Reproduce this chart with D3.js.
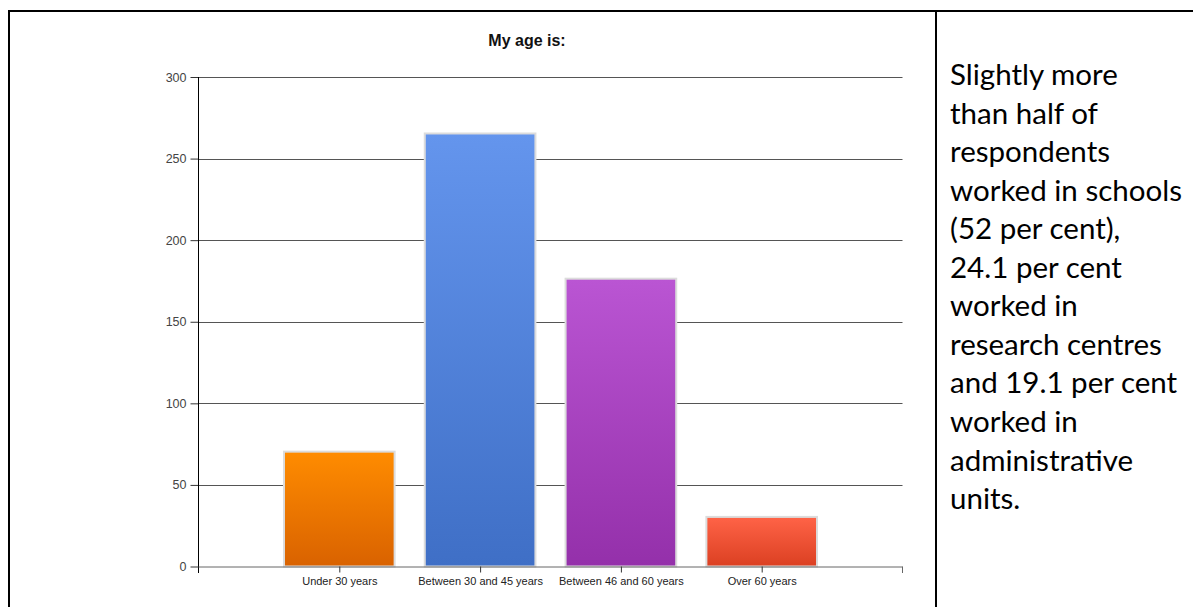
<!DOCTYPE html>
<html><head><meta charset="utf-8">
<script src="https://cdn.jsdelivr.net/npm/d3@7"></script>
<style>body{margin:0;background:#fff;}svg{display:block;}</style>
</head><body>
<svg id="c" width="1193" height="607"></svg>
<script>
const categories = ["Under 30 years","Between 30 and 45 years","Between 46 and 60 years","Over 60 years"];
const values = [71, 266, 177, 31];
const colorsTop = ["#FF8C00","#6495ED","#BA55D3","#FF6347"];
const colorsBottom = ["#D96200","#3F6FC6","#9430AA","#DB4022"];
const yTicks = [0,50,100,150,200,250,300];
const title = "My age is:";
const noteLines = ["Slightly more","than half of","respondents","worked in schools","(52 per cent),","24.1 per cent","worked in","research centres","and 19.1 per cent","worked in","administrative","units."];

(function(){
const svg = d3.select("#c");
const pLeft = 198.5, pRight = 902.5, pTop = 77, pBottom = 566.5;
const sans = "Arial, 'Liberation Sans', sans-serif";

// table borders
svg.append("line").attr("x1",8).attr("x2",1193).attr("y1",11).attr("y2",11).attr("stroke","#000").attr("stroke-width",2);
svg.append("line").attr("x1",9).attr("x2",9).attr("y1",10).attr("y2",607).attr("stroke","#000").attr("stroke-width",2);
svg.append("line").attr("x1",936).attr("x2",936).attr("y1",10).attr("y2",607).attr("stroke","#000").attr("stroke-width",2);

const y = d3.scaleLinear().domain([0,300]).range([pBottom, pTop]);
const x = d3.scalePoint().domain(categories).range([pLeft, pRight]).padding(1);
const bw = x.step()*0.8;

const defs = svg.append("defs");
categories.forEach((c,i)=>{
  const g = defs.append("linearGradient").attr("id","g"+i).attr("x1",0).attr("x2",0).attr("y1",0).attr("y2",1);
  g.append("stop").attr("offset","0%").attr("stop-color",colorsTop[i]);
  g.append("stop").attr("offset","100%").attr("stop-color",colorsBottom[i]);
});

// gridlines
svg.append("g").selectAll("line").data(yTicks.filter(d=>d>0)).join("line")
  .attr("x1",pLeft).attr("x2",pRight).attr("y1",d=>Math.round(y(d))+0.5).attr("y2",d=>Math.round(y(d))+0.5)
  .attr("stroke","#555").attr("stroke-width",1);

// bars
svg.append("g").selectAll("rect").data(values).join("rect")
  .attr("x",(d,i)=>x(categories[i])-bw/2+1)
  .attr("y",d=>y(d)+1)
  .attr("width",bw-2)
  .attr("height",d=>y(0)-y(d)-1)
  .attr("fill",(d,i)=>"url(#g"+i+")")
  .attr("stroke","#dcdcdc").attr("stroke-width",2);

// y axis
const ya = svg.append("g").attr("transform",`translate(${pLeft},0)`)
  .call(d3.axisLeft(y).tickValues(yTicks).tickSize(8).tickPadding(4).tickSizeOuter(0));
ya.select(".domain").remove();
ya.selectAll(".tick line").attr("stroke","#333");
ya.selectAll("text").attr("font-family",sans).attr("font-size",12.5).attr("fill","#444");
svg.append("line").attr("x1",pLeft).attr("x2",pLeft).attr("y1",pTop).attr("y2",573).attr("stroke","#000");

// x axis
const xa = svg.append("g").attr("transform",`translate(0,${pBottom})`)
  .call(d3.axisBottom(x).tickSize(6).tickPadding(5).tickSizeOuter(0));
xa.select(".domain").attr("stroke","#666").attr("d",`M${pLeft},0.5H${pRight}`);
xa.selectAll(".tick line").attr("stroke","#333");
xa.selectAll("text").attr("font-family",sans).attr("font-size",11).attr("fill","#222").attr("dy",null).attr("y",18.5);
svg.append("line").attr("x1",pRight).attr("x2",pRight).attr("y1",pBottom).attr("y2",573).attr("stroke","#666");

// title
svg.append("text").attr("x",527).attr("y",46).attr("text-anchor","middle")
  .attr("font-family",sans).attr("font-weight","bold").attr("font-size",16).attr("fill","#111").text(title);

// note text
const nt = svg.append("g").attr("font-family","Lato, 'Open Sans', sans-serif").attr("fill","#000");
const probe = nt.append("text").attr("font-size",26).text("worked in schools");
const w = probe.node().getComputedTextLength();
probe.remove();
const fs = 26*232/w;
nt.selectAll("text").data(noteLines).join("text")
  .attr("x",950).attr("y",(d,i)=>85+i*38.55).attr("font-size",fs).text(d=>d);
})();
</script>
</body></html>
